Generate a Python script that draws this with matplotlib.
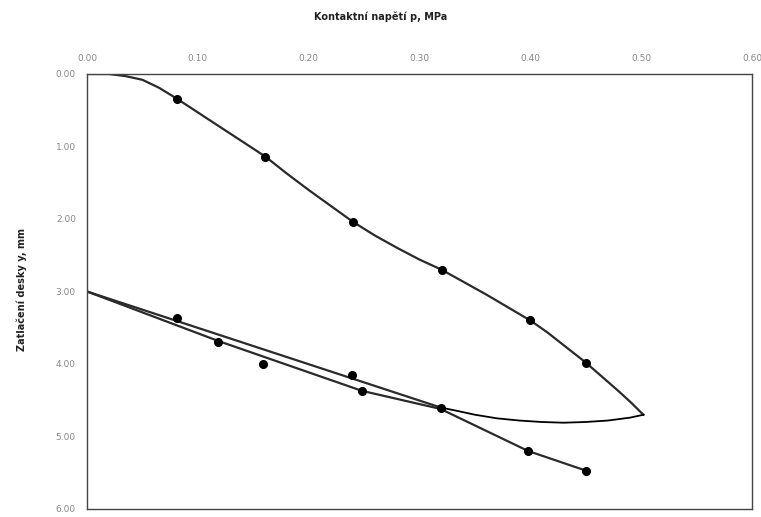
import matplotlib
matplotlib.use("Agg")
import matplotlib.pyplot as plt

# Loading curve
load_p = [0.00, 0.02, 0.035, 0.05, 0.065, 0.081, 0.10, 0.12, 0.14, 0.161, 0.18, 0.20, 0.22, 0.24,
          0.26, 0.28, 0.30, 0.32, 0.34, 0.36, 0.38, 0.40, 0.415, 0.43, 0.45, 0.465, 0.48, 0.49, 0.502]
load_y = [0.00, 0.00, 0.03, 0.08, 0.19, 0.34, 0.53, 0.73, 0.93, 1.14, 1.37, 1.60, 1.82, 2.04,
          2.23, 2.40, 2.56, 2.70, 2.87, 3.04, 3.22, 3.40, 3.56, 3.74, 3.98, 4.18, 4.38, 4.52, 4.70]
load_mark_p = [0.081, 0.161, 0.24, 0.32, 0.40, 0.45]
load_mark_y = [0.34, 1.14, 2.04, 2.70, 3.40, 3.98]

# Unloading path (arc back from peak, then straight to residual settlement)
unload_p = [0.502, 0.49, 0.47, 0.45, 0.43, 0.41, 0.39, 0.37, 0.35, 0.335, 0.319, 0.00]
unload_y = [4.70, 4.74, 4.78, 4.80, 4.81, 4.80, 4.78, 4.75, 4.70, 4.65, 4.60, 3.00]
unload_mark_p = [0.081, 0.239]
unload_mark_y = [3.36, 4.15]

# Reloading line
reload_p = [0.00, 0.118, 0.248, 0.319, 0.398, 0.45]
reload_y = [3.00, 3.68, 4.37, 4.62, 5.20, 5.47]
reload_mark_p = [0.118, 0.159, 0.248, 0.319, 0.398, 0.45]
reload_mark_y = [3.70, 4.00, 4.37, 4.61, 5.20, 5.47]

xticks = [0.0, 0.1, 0.2, 0.3, 0.4, 0.5, 0.6]
yticks = [0, 1, 2, 3, 4, 5, 6]

fig = plt.figure(figsize=(7.61, 5.17), dpi=100)
ax = fig.add_axes([0.1143, 0.0155, 0.8739, 0.8414])

lc = "#2a2a2a"
ax.plot(load_p, load_y, color=lc, lw=1.6, solid_joinstyle="round")
ax.plot(unload_p[:11], unload_y[:11], color="black", lw=1.3, solid_joinstyle="round")
ax.plot(unload_p[10:], unload_y[10:], color=lc, lw=1.6)
ax.plot(reload_p, reload_y, color=lc, lw=1.6, solid_joinstyle="round")
for mp, my in [(load_mark_p, load_mark_y), (unload_mark_p, unload_mark_y), (reload_mark_p, reload_mark_y)]:
    ax.plot(mp, my, linestyle="none", marker="o", ms=5.5, color="black")

ax.set_xlim(0, 0.6)
ax.set_ylim(6, 0)
ax.xaxis.tick_top()
ax.set_xticks(xticks)
ax.set_yticks(yticks)
ax.set_xticklabels([f"{v:.2f}" for v in xticks])
ax.set_yticklabels([f"{v:.2f}" for v in yticks])
ax.tick_params(axis="both", length=0, labelsize=6.5, labelcolor="#888888", pad=8)
for s in ax.spines.values():
    s.set_color("#444444")
    s.set_linewidth(1.0)

fig.text(0.5, 0.967, "Kontaktní napětí p, MPa", ha="center", va="center",
         fontsize=7, fontweight="bold", color="#222222")
fig.text(0.029, 0.44, "Zatlačení desky y, mm", ha="center", va="center",
         rotation=90, fontsize=7, fontweight="bold", color="#222222")

fig.savefig("out.png", dpi=100)
